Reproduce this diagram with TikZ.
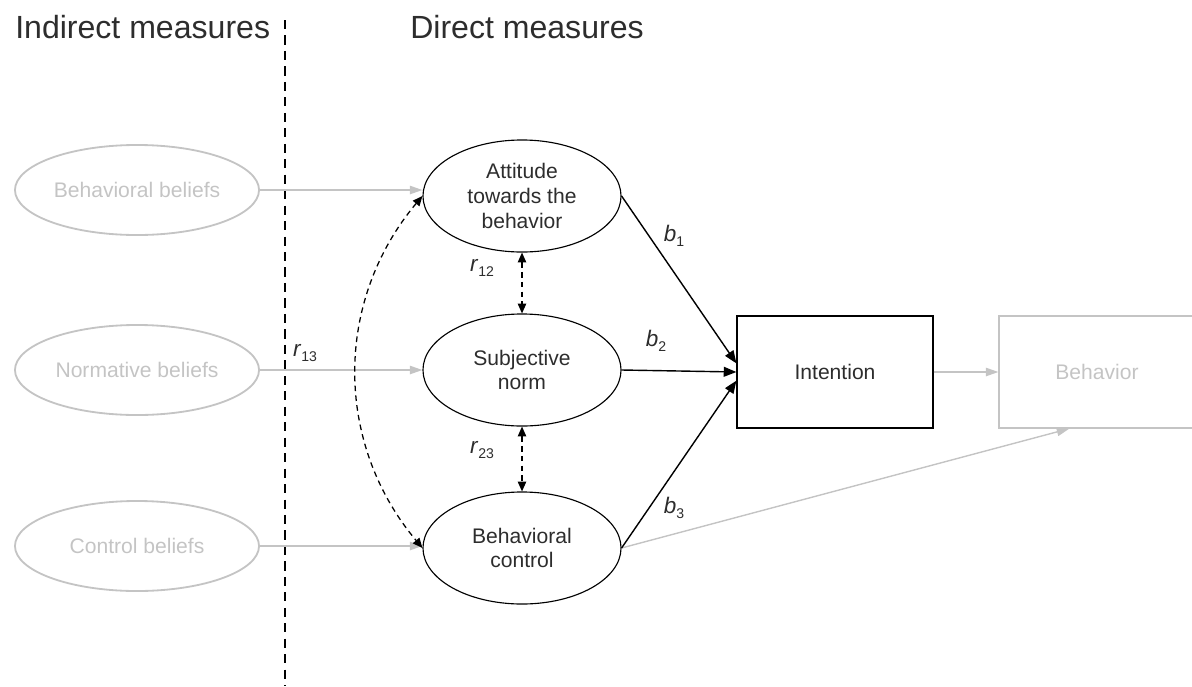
\documentclass[tikz,border=0pt]{standalone}
\usepackage{fontspec}
\setmainfont{Liberation Sans}
\usetikzlibrary{shapes.geometric,arrows.meta}
\definecolor{faint}{RGB}{196,196,196}
\definecolor{ink}{RGB}{45,45,45}
\tikzset{
	construct/.style={ellipse, draw, line width=0.8pt, minimum width=4.95cm, minimum height=2.8cm, inner sep=0pt, align=center, text=ink, font=\fontsize{15}{17.7}\selectfont},
	belief/.style={ellipse, draw=faint, line width=1.3pt, minimum width=6.1cm, minimum height=2.25cm, inner sep=0pt, text=faint, font=\fontsize{15}{17.7}\selectfont},
	outcome/.style={rectangle, draw, line width=0.8pt, minimum width=4.9cm, minimum height=2.8cm, inner sep=0pt, text=ink, font=\fontsize{15}{17.7}\selectfont},
	heading/.style={anchor=base west, inner sep=0pt, text=ink, font=\fontsize{22.8}{27}\selectfont},
	coef/.style={inner sep=1pt, text=ink, font=\fontsize{16}{18}\selectfont},
	path/.style={-{Triangle[length=9pt,width=7pt]}, line width=1pt},
	faintpath/.style={-{Triangle[length=9pt,width=6pt]}, draw=faint, fill=faint, line width=1pt},
	corr/.style={{Triangle[length=7pt,width=6pt]}-{Triangle[length=7pt,width=6pt]}, line width=0.9pt, dash pattern=on 4pt off 3pt},
	divider/.style={line width=1.3pt, dash pattern=on 6.5pt off 4.5pt}
}
\newcommand{\coefsub}[2]{\textit{#1}\raisebox{-0.45ex}{\fontsize{10}{12}\selectfont #2}}
\begin{document}
\begin{tikzpicture}[x=0.025cm, y=-0.025cm]
{
	\useasboundingbox (0,0) rectangle (1192,686);
	% headings and divider
	\node[heading] (IndirectHead) at (15,38) {Indirect measures};
	\node[heading] (DirectHead) at (410,38) {Direct measures};
	\coordinate (DivTop) at (285,20);
	\coordinate (DivBottom) at (285,686);
	\draw[divider] (DivTop) -- (DivBottom);
	% beliefs
	\node[belief] (BehBeliefs) at (137,190) {Behavioral beliefs};
	\node[belief] (NormBeliefs) at (137,370) {Normative beliefs};
	\node[belief] (CtrlBeliefs) at (137,546) {Control beliefs};
	% constructs
	\node[construct] (Attitude) at (522,196) {Attitude\\towards the\\behavior};
	\node[construct] (Norm) at (522,370) {Subjective\\norm};
	\node[construct] (Control) at (522,548) {Behavioral\\control};
	\node[outcome] (Intention) at (835,372) {Intention};
	\node[outcome, draw=faint, text=faint] (Behavior) at (1097,372) {Behavior};
	% gray paths
	\draw[faintpath] (BehBeliefs.east) -- (BehBeliefs.east -| Attitude.west);
	\draw[faintpath] (NormBeliefs) -- (Norm);
	\draw[faintpath] (CtrlBeliefs.east) -- (CtrlBeliefs.east -| Control.west);
	\draw[faintpath] (Intention) -- (Behavior);
	\draw[faintpath] (Control.east) -- (Behavior.244);
	% direct paths
	\draw[path] (Attitude.east) -- (Intention.175);
	\draw[path] (Norm.east) -- (Intention.west);
	\draw[path] (Control.east) -- (Intention.185);
	% correlations
	\draw[corr] (Attitude) -- (Norm);
	\draw[corr] (Norm) -- (Control);
	\draw[corr] (Attitude.west) to[bend right=40] (Control.west);
	% coefficients
	\node[coef] (b1) at (674,236) {\coefsub{b}{1}};
	\node[coef] (b2) at (656,341) {\coefsub{b}{2}};
	\node[coef] (b3) at (674,508) {\coefsub{b}{3}};
	\node[coef] (r12) at (482,268) {\coefsub{r}{12}};
	\node[coef] (r13) at (305,353) {\coefsub{r}{13}};
	\node[coef] (r23) at (482,450) {\coefsub{r}{23}};
}
\end{tikzpicture}
\end{document}
